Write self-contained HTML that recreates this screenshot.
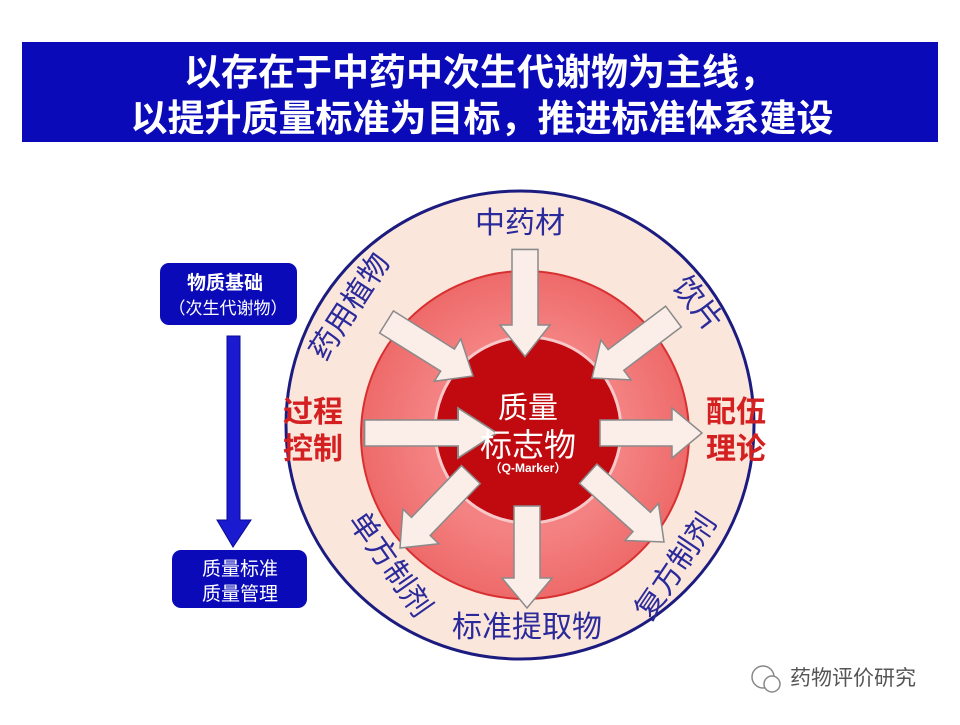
<!DOCTYPE html>
<html><head><meta charset="utf-8"><style>
body{margin:0;background:#fff;}
svg text{font-family:"Liberation Sans","Noto Sans CJK SC",sans-serif;}
</style></head><body>
<svg width="960" height="720" viewBox="0 0 960 720" xmlns="http://www.w3.org/2000/svg">
<defs>
<radialGradient id="rg" cx="50%" cy="50%" r="50%">
<stop offset="0.6" stop-color="#f48282"/><stop offset="1" stop-color="#ee6a6a"/>
</radialGradient>
<g id="arr"><polygon points="0,-13 -72,-13 -72,13 0,13 0,25 30,0 0,-25" fill="#fbeee8" stroke="#8a8a8a" stroke-width="1.5"/></g>
</defs>
<rect x="22" y="42" width="916" height="100" fill="#0a0ab8"/>
<text x="480" y="85" font-size="37" font-weight="bold" fill="#fff" text-anchor="middle">以存在于中药中次生代谢物为主线，</text>
<text x="482" y="131" font-size="37" font-weight="bold" fill="#fff" text-anchor="middle">以提升质量标准为目标，推进标准体系建设</text>

<circle cx="520" cy="425" r="234" fill="#fbe6dc" stroke="#1c1c80" stroke-width="3"/>
<circle cx="525" cy="435" r="164" fill="url(#rg)" stroke="#d83030" stroke-width="2"/>
<circle cx="528" cy="430" r="93" fill="#c00a10" stroke="#f6c8c8" stroke-width="3"/>

<use href="#arr" transform="translate(525,355) rotate(90) translate(-30,0) scale(1.05,1)"/>
<use href="#arr" transform="translate(473,376) rotate(32) translate(-30,0)"/>
<use href="#arr" transform="translate(592,378) rotate(143) translate(-30,0)"/>
<use href="#arr" transform="translate(488,433) translate(-30,0) scale(1.3,1)"/>
<use href="#arr" transform="translate(702,433) translate(-30,0)"/>
<use href="#arr" transform="translate(400,548) rotate(134) translate(-30,0)"/>
<use href="#arr" transform="translate(527,608) rotate(90) translate(-30,0)"/>
<use href="#arr" transform="translate(664,542) rotate(42) translate(-30,0)"/>

<text x="528" y="418" font-size="30" fill="#fff" text-anchor="middle">质量</text>
<text x="528" y="456" font-size="32" fill="#fff" text-anchor="middle">标志物</text>
<text x="528" y="472" font-size="12" font-weight="bold" fill="#fff" text-anchor="middle">（Q-Marker）</text>

<text x="520" y="233" font-size="30" fill="#2a2a9a" text-anchor="middle">中药材</text>
<text transform="translate(358,312) rotate(-57)" font-size="30" fill="#2a2a9a" text-anchor="middle">药用植物</text>
<text transform="translate(690,310) rotate(52)" font-size="30" fill="#2a2a9a" text-anchor="middle">饮片</text>
<text transform="translate(382,570) rotate(55)" font-size="30" fill="#2a2a9a" text-anchor="middle">单方制剂</text>
<text x="527" y="637" font-size="30" fill="#2a2a9a" text-anchor="middle">标准提取物</text>
<text transform="translate(684,572) rotate(-56)" font-size="30" fill="#2a2a9a" text-anchor="middle">复方制剂</text>

<text x="313" y="422" font-size="30" font-weight="bold" fill="#d42020" text-anchor="middle">过程</text>
<text x="313" y="459" font-size="30" font-weight="bold" fill="#d42020" text-anchor="middle">控制</text>
<text x="736" y="422" font-size="30" font-weight="bold" fill="#d42020" text-anchor="middle">配伍</text>
<text x="736" y="459" font-size="30" font-weight="bold" fill="#d42020" text-anchor="middle">理论</text>

<rect x="160" y="263" width="137" height="62" rx="9" fill="#0a0ab8"/>
<text x="225" y="289" font-size="19" font-weight="bold" fill="#fff" text-anchor="middle">物质基础</text>
<text x="228" y="314" font-size="17" fill="#fff" text-anchor="middle">（次生代谢物）</text>
<polygon points="227,336 240,336 240,520 251,520 233,547 217,520 227,520" fill="#1a1ad0" stroke="#0a0a90" stroke-width="1"/>
<rect x="172" y="550" width="135" height="58" rx="9" fill="#0a0ab8"/>
<text x="240" y="575" font-size="19" fill="#fff" text-anchor="middle">质量标准</text>
<text x="240" y="600" font-size="19" fill="#fff" text-anchor="middle">质量管理</text>

<circle cx="763" cy="677" r="11" fill="none" stroke="#888" stroke-width="1.5"/>
<circle cx="772" cy="684" r="8" fill="#fff" stroke="#888" stroke-width="1.5"/>
<text x="790" y="685" font-size="21" fill="#555">药物评价研究</text>
</svg>
</body></html>
